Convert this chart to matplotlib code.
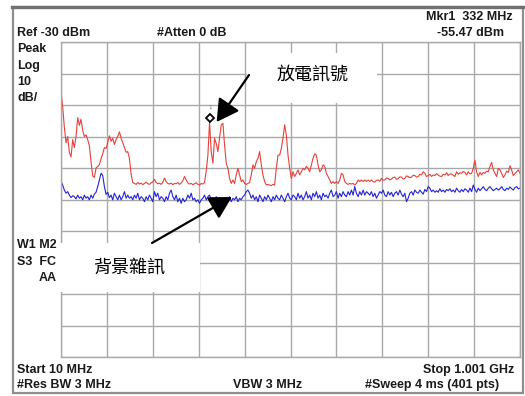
import numpy as np
import matplotlib.pyplot as plt
from matplotlib.patches import Rectangle
from matplotlib.lines import Line2D
from matplotlib.transforms import offset_copy

# sweep settings
START_MHZ = 10
STOP_MHZ = 1001
REF_DBM = -30
DB_PER_DIV = 10
MKR_FREQ = 332
MKR_DBM = -55.47

# discharge trace (red), evenly spaced over the sweep
red_dbm = [
    # 10 - 330 MHz
    -45.8, -50.5, -57.0, -62.0, -60.0, -65.0, -66.5, -61.0, -63.5, -60.0,
    -54.0, -56.5, -54.5, -58.0, -60.0, -59.5, -61.0, -63.0, -68.0, -72.5,
    -73.0, -70.0, -69.5, -69.0, -67.0, -65.5, -63.5, -63.8, -62.0, -59.8,
    -61.5, -60.6, -62.5, -61.0, -60.0, -58.5, -60.5, -62.0, -63.5, -65.0,
    -64.8, -67.0, -72.0, -74.6,
    -74.9, -75.2, -74.6, -75.1, -74.8, -75.3, -74.9, -74.5, -75.0, -75.2,
    -74.7, -74.4, -73.6, -74.6, -75.0, -74.8, -75.2, -74.5, -73.2, -74.3,
    -74.9, -75.1, -74.8, -75.3, -74.9, -75.0, -74.6, -75.2, -74.8, -74.0,
    -72.7, -73.8, -74.7, -75.1, -74.9, -75.3, -75.0, -74.7, -75.2, -75.4,
    -74.9, -75.1, -74.6, -71.0, -66.0, -55.5,
    # 334 - 673 MHz
    -64.8, -68.5, -60.6, -62.2, -64.8, -60.6, -56.3, -55.8, -62.7, -68.5,
    -70.1, -73.3, -74.9, -73.8, -74.9, -72.2, -70.1, -72.2, -74.3, -73.8,
    -74.9, -75.2, -74.9, -74.6, -72.2, -69.0, -70.1, -68.0, -66.9, -64.8,
    -69.0, -72.2, -74.3, -75.4, -75.2, -75.4, -75.6, -75.2, -75.4, -70.1,
    -65.9, -65.9, -63.8, -60.6, -56.3, -59.5, -65.9, -70.1, -73.3, -71.2,
    -72.7, -71.7, -70.6, -72.2, -71.2, -70.1, -70.6, -69.5, -70.1, -71.2,
    -69.0, -66.9, -65.5, -65.9, -69.0, -71.2, -70.6, -69.0, -69.5, -71.7,
    -72.7, -73.8, -74.9, -74.3, -74.9, -74.3, -74.9, -73.8, -71.7, -72.2,
    -74.3, -74.9, -75.2, -74.9, -75.1, -74.9, -75.4, -74.9, -73.8, -74.3,
    -73.8, -74.3, -73.8, -74.3, -73.8,
    # 677 - 1001 MHz
    -74.3, -73.8, -74.3, -74.5, -73.9, -73.8, -74.2, -73.3, -73.9, -73.8,
    -73.2, -73.3, -73.8, -73.5, -73.0, -72.9, -73.6, -73.4, -72.8, -72.9,
    -73.5, -73.3, -72.5, -72.7, -73.1, -72.9, -72.3, -72.4, -72.9, -72.7,
    -72.0, -72.2, -71.2, -71.7, -72.7, -72.4, -72.0, -72.7, -72.2, -72.4,
    -71.8, -72.2, -72.6, -72.7, -72.0, -72.2, -71.5, -72.4, -71.9, -71.9,
    -72.3, -72.7, -71.2, -72.0, -71.5, -71.7, -71.1, -71.4, -72.2, -71.2,
    -71.9, -71.7, -70.1, -67.5, -71.2, -72.7, -71.4, -72.2, -71.4, -71.7,
    -71.0, -71.2, -69.5, -68.2, -70.6, -71.7, -72.7, -70.1, -70.6, -71.7,
    -73.0, -72.2, -71.0, -71.4, -69.3, -70.6, -72.4, -71.7, -71.2, -70.6,
    -71.7,
]

# background noise trace (blue)
blue_dbm = [
    # 10 - 330 MHz
    -74.3, -75.4, -77.0, -78.0, -77.5, -78.6, -79.4, -78.8, -79.1, -79.8,
    -78.6, -79.6, -79.1, -80.1, -78.6, -79.6, -79.1, -80.1, -78.6, -79.6,
    -78.3, -77.7, -75.9, -73.8, -71.7, -72.4, -75.9, -78.4, -77.7, -79.4,
    -78.6, -80.1, -78.0, -79.1, -80.1, -78.6, -80.1, -79.1, -77.5, -79.6,
    -78.6, -79.6, -79.1, -80.1, -78.6, -79.6, -78.0, -80.1, -79.1, -79.6,
    -80.7, -79.1, -80.1, -78.6, -79.6, -80.7, -77.5, -79.1, -78.0, -80.1,
    -79.1, -79.6, -80.7, -79.1, -80.1, -78.0, -77.0, -79.1, -80.1, -78.6,
    -80.7, -79.6, -81.2, -79.6, -80.7, -80.1, -78.6, -79.6, -78.0, -80.1,
    -79.6, -80.7, -80.1, -81.2, -80.1, -79.6, -78.6, -80.1, -79.1, -78.6,
    # 334 - 673 MHz
    -80.1, -79.6, -80.7, -79.1, -80.1, -80.7, -79.6, -80.1, -81.2, -79.6,
    -80.1, -79.1, -80.7, -79.6, -80.1, -79.1, -80.7, -79.6, -80.1, -79.1,
    -78.6, -77.5, -77.0, -78.0, -79.6, -78.6, -80.1, -79.1, -80.7, -78.6,
    -79.6, -80.7, -79.1, -80.1, -78.6, -79.6, -80.7, -79.1, -80.1, -78.6,
    -79.6, -80.1, -78.6, -79.6, -80.7, -79.1, -78.0, -79.6, -80.1, -78.6,
    -79.1, -80.1, -78.0, -79.6, -78.6, -80.1, -79.1, -77.5, -79.6, -78.6,
    -80.1, -78.0, -79.1, -77.5, -79.6, -78.6, -80.1, -78.0, -79.1, -78.6,
    -79.6, -78.0, -77.0, -79.1, -78.6, -77.5, -79.6, -78.0, -79.1, -77.5,
    -78.6, -79.1, -77.5, -78.6, -77.0, -78.6, -75.9, -78.0, -79.1, -77.5,
    -78.6, -77.0, -78.6, -77.5, -78.0,
    # 677 - 1001 MHz
    -78.6, -77.5, -79.1, -78.0, -79.6, -78.6, -77.5, -78.0, -77.0, -78.6,
    -79.1, -77.5, -78.6, -77.7, -79.1, -78.0, -77.5, -78.6, -77.0, -78.3,
    -79.1, -78.0, -80.7, -79.6, -78.0, -77.5, -78.6, -77.0, -77.7, -78.0,
    -77.0, -77.7, -78.3, -76.8, -77.5, -75.9, -76.4, -77.5, -77.0, -77.7,
    -77.2, -77.7, -76.6, -77.5, -77.0, -77.7, -76.8, -77.2, -76.6, -77.5,
    -77.0, -77.7, -76.4, -77.2, -77.7, -76.8, -77.5, -76.6, -77.0, -77.7,
    -76.4, -77.5, -75.4, -76.8, -77.7, -76.4, -77.2, -76.6, -75.9, -76.8,
    -77.2, -76.4, -75.9, -76.6, -77.2, -76.8, -76.4, -77.0, -76.6, -75.9,
    -76.8, -77.2, -76.4, -76.8, -76.0, -76.6, -77.0, -76.2, -75.9, -76.6,
    -76.4,
]

W, H = 525, 396
fig = plt.figure(figsize=(W / 100, H / 100), dpi=100)
fig.patch.set_facecolor("white")


def fx(x):
    return x / W


def fy(y):
    return 1 - y / H


ax = fig.add_axes([fx(61), fy(357), fx(520) - fx(61), fy(42) - fy(357)])

red_freq = np.linspace(START_MHZ, STOP_MHZ, len(red_dbm))
blue_freq = np.linspace(START_MHZ, STOP_MHZ, len(blue_dbm))
ax.plot(red_freq, red_dbm, color="#e8403a", lw=0.8, zorder=2)
ax.plot(blue_freq, blue_dbm, color="#2424d8", lw=0.8, zorder=2)

# marker 1
mk_tr = offset_copy(ax.transData, fig=fig, x=0, y=4, units="dots")
ax.plot([MKR_FREQ], [MKR_DBM], marker="D", ms=4.5, mfc="white", mec="black",
        mew=1.3, transform=mk_tr, zorder=4)
lbl_tr = offset_copy(ax.transData, fig=fig, x=0, y=15, units="dots")
ax.text(MKR_FREQ, MKR_DBM, "1", transform=lbl_tr, fontsize=4, color="#777777",
        ha="center", va="center", zorder=4)

bottom = REF_DBM - 10 * DB_PER_DIV
ax.set_xlim(START_MHZ, STOP_MHZ)
ax.set_ylim(bottom, REF_DBM)
ax.set_xticks(np.linspace(START_MHZ, STOP_MHZ, 11))
ax.set_yticks(np.linspace(bottom, REF_DBM, 11))
ax.tick_params(length=0, labelbottom=False, labelleft=False)
ax.grid(True, color="#a9a9a9", lw=1.0)
ax.set_axisbelow(True)
for sp in ax.spines.values():
    sp.set_color("#a9a9a9")
    sp.set_linewidth(1.0)

# instrument annotations
ft = dict(family="Liberation Sans", fontweight="bold", fontsize=9,
          color="#1a1a1a", transform=fig.transFigure, clip_on=False, zorder=2.6,
          va="center")
ax.text(fx(513), fy(17), "Mkr1  332 MHz", ha="right", **ft)
ax.text(fx(17), fy(33), "Ref -30 dBm", ha="left", **ft)
ax.text(fx(157), fy(33), "#Atten 0 dB", ha="left", **ft)
ax.text(fx(504), fy(33), "-55.47 dBm", ha="right", **ft)
ax.text(fx(17), fy(49), "Peak", ha="left", **ft)
ax.text(fx(17), fy(66), "Log", ha="left", **ft)
ax.text(fx(17), fy(82), "10", ha="left", **ft)
ax.text(fx(17), fy(98), "dB/", ha="left", **ft)
ax.text(fx(17), fy(245), "W1 M2", ha="left", **ft)
ax.text(fx(17), fy(262), "S3  FC", ha="left", **ft)
ax.text(fx(39), fy(278), "AA", ha="left", **ft)
ax.text(fx(17), fy(370), "Start 10 MHz", ha="left", **ft)
ax.text(fx(514), fy(370), "Stop 1.001 GHz", ha="right", **ft)
ax.text(fx(17), fy(385), "#Res BW 3 MHz", ha="left", **ft)
ax.text(fx(233), fy(385), "VBW 3 MHz", ha="left", **ft)
ax.text(fx(499), fy(385), "#Sweep 4 ms (401 pts)", ha="right", **ft)

# white label boxes
for x0, y0, x1, y1 in [(247, 53, 377, 103), (57, 243, 200, 292)]:
    ax.add_patch(Rectangle((fx(x0), fy(y1)), fx(x1) - fx(x0), fy(y0) - fy(y1),
                           facecolor="white", edgecolor="none",
                           transform=fig.transFigure, clip_on=False, zorder=3))

cjk = dict(family=["Noto Sans CJK TC", "DejaVu Sans"], fontsize=13,
           color="black", transform=fig.transFigure, clip_on=False, zorder=6,
           ha="center", va="center")
ax.text(fx(313), fy(75), "放電訊號", **cjk)
ax.text(fx(129), fy(268), "背景雜訊", **cjk)

arrow = dict(arrowstyle="-|>,head_length=0.75,head_width=0.42", lw=1.6,
             color="black", mutation_scale=18, shrinkA=0, shrinkB=0)
ax.annotate("", xy=(346, -55.4), xycoords="data",
            xytext=(fx(249), fy(75)), textcoords="figure fraction",
            arrowprops=arrow, zorder=5, annotation_clip=False)
ax.annotate("", xy=(379, -79.2), xycoords="data",
            xytext=(fx(152), fy(243)), textcoords="figure fraction",
            arrowprops=arrow, zorder=5, annotation_clip=False)

# screen frame
fig.add_artist(Rectangle((fx(12.5), fy(392.5)), fx(522.5) - fx(12.5),
                         fy(7) - fy(392.5), fill=False, edgecolor="#8e8e8e",
                         lw=1.6, transform=fig.transFigure))
fig.add_artist(Line2D([fx(12), fx(523)], [fy(6.5), fy(6.5)], color="#707070",
                      lw=2.4, transform=fig.transFigure))

fig.savefig("out.png", dpi=100)
